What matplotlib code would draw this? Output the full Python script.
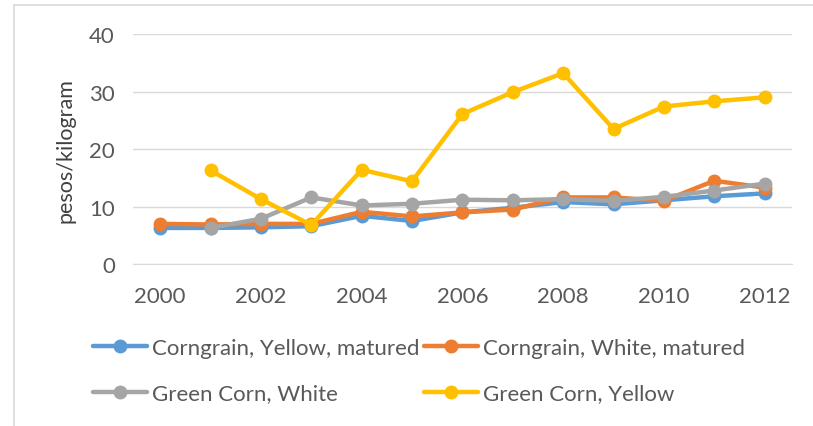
import matplotlib.pyplot as plt
from matplotlib.lines import Line2D

anos = [2000, 2001, 2002, 2003, 2004, 2005, 2006, 2007, 2008, 2009, 2010, 2011, 2012]

corngrain_yellow = [6.3, 6.3, 6.4, 6.6, 8.4, 7.5, 9.0, 9.8, 10.8, 10.4, 11.1, 11.8, 12.3]
corngrain_white = [7.0, 6.9, 7.0, 7.0, 9.1, 8.3, 9.0, 9.5, 11.6, 11.6, 11.0, 14.5, 13.3]
green_white = [None, 6.3, 7.9, 11.6, 10.2, 10.5, 11.2, 11.1, 11.3, 11.0, 11.7, 12.8, 14.0]
green_yellow = [None, 16.3, 11.3, 6.8, 16.4, 14.4, 26.1, 29.9, 33.2, 23.5, 27.4, 28.3, 29.0]

series = [
    ('Corngrain, Yellow, matured', corngrain_yellow, '#5B9BD5'),
    ('Corngrain, White, matured', corngrain_white, '#ED7D31'),
    ('Green Corn, White', green_white, '#A5A5A5'),
    ('Green Corn, Yellow', green_yellow, '#FFC000'),
]

plt.rcParams['font.family'] = ['Lato', 'DejaVu Sans']

fig = plt.figure(figsize=(8.13, 4.27), dpi=100)
ax = fig.add_axes([0.1636, 0.379, 0.8104, 0.539])

linhas = []
for nome, valores, cor in series:
    xs = [a for a, v in zip(anos, valores) if v is not None]
    ys = [v for v in valores if v is not None]
    l, = ax.plot(xs, ys, color=cor, linewidth=3.2, marker='o', markersize=9,
                 label=nome, solid_capstyle='round')
    linhas.append(l)

ax.set_xlim(1999.46, 2012.54)
ax.set_ylim(0, 40)
ax.set_xticks(range(2000, 2013, 2))
ax.set_yticks(range(0, 41, 10))
ax.grid(axis='y', color='#D9D9D9', linewidth=1)
ax.set_axisbelow(True)
for s in ['top', 'right', 'left']:
    ax.spines[s].set_visible(False)
ax.spines['bottom'].set_color('#D9D9D9')
ax.tick_params(length=0, labelsize=16, colors='#595959')
ax.tick_params(axis='x', pad=16)
ax.tick_params(axis='y', pad=13)
ax.set_ylabel('pesos/kilogram', fontsize=15.5, color='#404040', labelpad=10)

# legenda em duas colunas, posicionadas separadamente
estilo = dict(loc='upper left', frameon=False, fontsize=16, labelcolor='#595959',
              handlelength=2.45, handletextpad=0.2, labelspacing=1.15,
              borderpad=0, borderaxespad=0)
leg1 = fig.legend([linhas[0], linhas[2]], [series[0][0], series[2][0]],
                  bbox_to_anchor=(93 / 813, 1 - 339 / 427), **estilo)
leg2 = fig.legend([linhas[1], linhas[3]], [series[1][0], series[3][0]],
                  bbox_to_anchor=(424 / 813, 1 - 339 / 427), **estilo)

# borda do gráfico
fig.add_artist(Line2D([14 / 813, 1], [1 - 6 / 427, 1 - 6 / 427], color='#D9D9D9', linewidth=1.2))
fig.add_artist(Line2D([14 / 813, 14 / 813], [0, 1 - 6 / 427], color='#D9D9D9', linewidth=1.2))

fig.savefig('out.png', dpi=100)
